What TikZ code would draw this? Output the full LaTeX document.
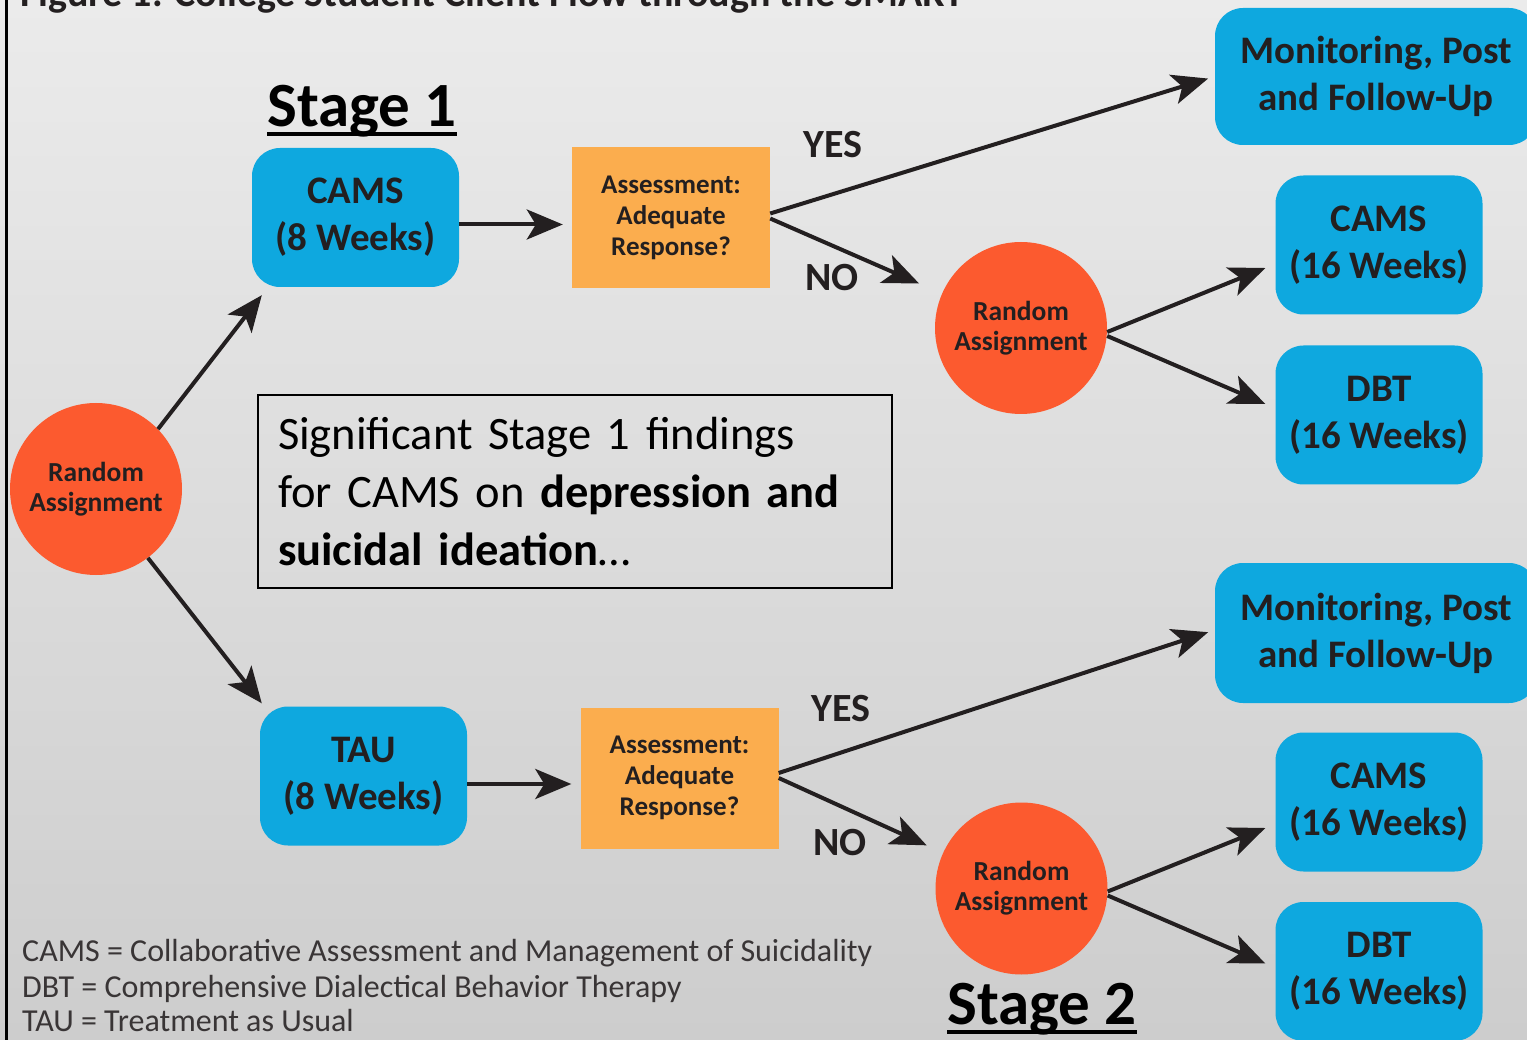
\documentclass[tikz,border=0pt]{standalone}
\usepackage{fontspec}
\setmainfont{Carlito}
\usetikzlibrary{arrows.meta,calc}

\definecolor{bgtop}{HTML}{EBEBEB}
\definecolor{bgbot}{HTML}{CDCDCD}
\definecolor{boxblue}{HTML}{0EA8DF}
\definecolor{boxorange}{HTML}{FBAD4E}
\definecolor{randred}{HTML}{FC5A2F}
\definecolor{ink}{HTML}{231F20}

\tikzset{
  bluebox/.style={rectangle, rounded corners=28pt, fill=boxblue, text=ink,
    minimum width=207pt, minimum height=139pt, align=center, inner sep=0pt,
    font=\fontsize{39}{47}\selectfont\bfseries},
  assessbox/.style={rectangle, fill=boxorange, text=ink,
    minimum width=198pt, minimum height=141pt, align=center, inner sep=0pt,
    font=\fontsize{27}{31}\selectfont\bfseries},
  randcirc/.style={circle, fill=randred, text=ink, minimum size=172pt,
    align=center, inner sep=0pt, font=\fontsize{27.5}{30}\selectfont\bfseries},
  answer/.style={text=ink, inner sep=0pt, font=\fontsize{40}{48}\selectfont\bfseries},
  stagelabel/.style={text=black, inner sep=0pt, anchor=base,
    font=\fontsize{63}{70}\selectfont\bfseries},
  legendline/.style={text=ink!90, inner sep=0pt, anchor=base west,
    font=\fontsize{32}{35}\selectfont},
  arr/.style={draw=ink, line width=4pt,
    -{Stealth[length=36pt,width=30pt,inset=9pt]}},
}

\begin{document}
\begin{tikzpicture}[x=1pt,y=-1pt]
  \useasboundingbox (0,0) rectangle (1527,1040);
  \shade[top color=bgtop, bottom color=bgbot] (0,0) rectangle (1527,1040);
  % frame edge on the left
  \draw[line width=3pt, black] (6,-5) -- (6,1045);

  % heading, running off the top edge
  \node[anchor=base west, inner sep=0pt, text=ink,
        font=\fontsize{40}{48}\selectfont\bfseries] (title) at (20,7)
        {Figure 1. College Student Client Flow through the SMART};

  % stage 1
  \node[randcirc] (ra0) at (96,489) {Random\\Assignment};
  \node[bluebox] (cams8) at (355.5,217.5) {CAMS\\(8 Weeks)};
  \node[assessbox] (as1) at (671,217.5) {Assessment:\\Adequate\\Response?};
  \node[bluebox] (tau8) at (363.5,776) {TAU\\(8 Weeks)};
  \node[assessbox] (as2) at (679.5,778) {Assessment:\\Adequate\\Response?};

  % stage 2, upper branch
  \node[randcirc] (ra1) at (1021,328) {Random\\Assignment};
  \node[bluebox, minimum width=322pt, minimum height=137pt] (mon1) at (1376,76.5)
        {Monitoring, Post\\and Follow-Up};
  \node[bluebox] (cams16a) at (1379,245) {CAMS\\(16 Weeks)};
  \node[bluebox] (dbt16a) at (1379,415) {DBT\\(16 Weeks)};

  % stage 2, lower branch
  \node[randcirc] (ra2) at (1021.5,888.5) {Random\\Assignment};
  \node[bluebox, minimum width=322pt, minimum height=140pt] (mon2) at (1376,633)
        {Monitoring, Post\\and Follow-Up};
  \node[bluebox] (cams16b) at (1379,802) {CAMS\\(16 Weeks)};
  \node[bluebox] (dbt16b) at (1379,971.5) {DBT\\(16 Weeks)};

  % yes / no labels
  \node[answer] (yes1) at (833,145) {YES};
  \node[answer] (no1) at (832,278) {NO};
  \node[answer] (yes2) at (841,709) {YES};
  \node[answer] (no2) at (840,843) {NO};

  % findings note
  \node[draw=black, line width=1.5pt, minimum width=634pt, minimum height=193pt,
        text width=594pt, align=left, inner sep=0pt, text=black,
        font=\fontsize{46.5}{58}\selectfont] (note) at (575,491.5)
        {Significant Stage 1 findings\\for CAMS on \textbf{depression and}\\\textbf{suicidal ideation}…};

  % stage headings
  \node[stagelabel] (st1) at (362,127) {Stage 1};
  \draw[line width=4pt] ([yshift=-7pt]st1.base west) -- ([yshift=-7pt]st1.base east);
  \node[stagelabel] (st2) at (1042,1024) {Stage 2};
  \draw[line width=4pt] ([yshift=-8pt]st2.base west) -- ([yshift=-8pt]st2.base east);

  % abbreviations
  \node[legendline] (leg1) at (22,961) {CAMS = Collaborative Assessment and Management of Suicidality};
  \node[legendline] (leg2) at (22,997) {DBT = Comprehensive Dialectical Behavior Therapy};
  \node[legendline] (leg3) at (22,1031) {TAU = Treatment as Usual};

  % connectors
  \draw[arr] (ra0.44) -- ([shift={(10pt,-8pt)}]cams8.south west);
  \draw[arr] (ra0.-53) -- ([shift={(2pt,3pt)}]tau8.north west);
  \draw[arr, shorten >=9pt] ([yshift=-7pt]cams8.east) -- ([yshift=-7pt]as1.west);
  \draw[arr, shorten >=9pt] ([yshift=-8pt]tau8.east) -- ([yshift=-6pt]as2.west);

  \draw[arr, shorten >=7pt] ([yshift=4pt]as1.east) -- (mon1.west);
  \draw[arr, shorten >=25pt] ([yshift=-1pt]as1.east) -- (ra1);
  \draw[arr] ([yshift=-4pt]ra1.east) -- ([shift={(-10pt,-23pt)}]cams16a.west);
  \draw[arr] ([yshift=-8pt]ra1.east) -- ([shift={(-10pt,11pt)}]dbt16a.west);

  \draw[arr, shorten >=7pt] ([yshift=5pt]as2.east) -- ([yshift=3pt]mon2.west);
  \draw[arr, shorten >=18pt] (as2.east) -- (ra2);
  \draw[arr] ([yshift=-3pt]ra2.east) -- ([shift={(-10pt,-26pt)}]cams16b.west);
  \draw[arr] ([yshift=-7pt]ra2.east) -- ([shift={(-10pt,8pt)}]dbt16b.west);
\end{tikzpicture}
\end{document}
